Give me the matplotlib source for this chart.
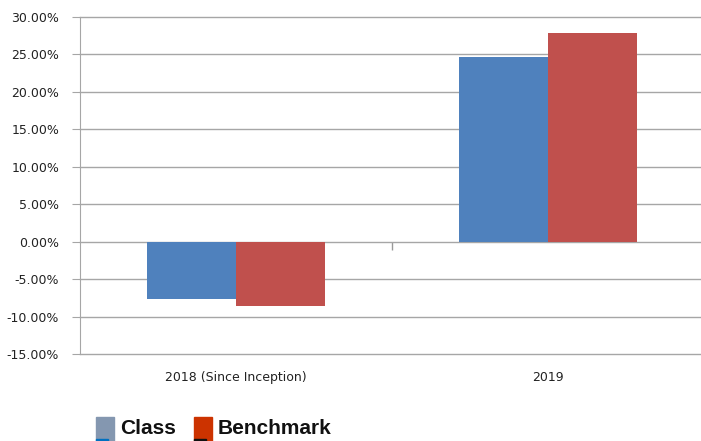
import numpy as np
import matplotlib
matplotlib.use('Agg')
import matplotlib.pyplot as plt
import matplotlib.patches as patches
import matplotlib.ticker as ticker

categories = ["2018 (Since Inception)", "2019"]
class_vals = [-7.6, 24.7]
bench_vals = [-8.6, 27.8]
series_names = ["Class", "Benchmark"]

dpi = 100
grid_col = '#a6a6a6'

fig = plt.figure(figsize=(7.01, 4.41), dpi=dpi)
ax = fig.add_axes([80 / 701, 1 - 354 / 441, 621 / 701, 337 / 441])

x = np.arange(len(categories))
w = 0.285
ax.bar(x - w / 2, class_vals, w, color='#4f81bd', zorder=3)
ax.bar(x + w / 2, bench_vals, w, color='#c0504d', zorder=3)

ax.set_xlim(-0.5, 1.49)
ax.set_ylim(-15, 30)
ax.yaxis.set_major_locator(ticker.MultipleLocator(5))
ax.yaxis.set_major_formatter(ticker.FuncFormatter(
    lambda v, p: ('%.2f%%' % v) if v >= 0 else ('-%.2f%%' % -v)))
ax.grid(axis='y', color=grid_col, linewidth=1, zorder=0)
ax.set_axisbelow(True)
for gl in ax.get_ygridlines():
    gl.set_clip_on(False)

for s in ['top', 'right', 'bottom']:
    ax.spines[s].set_visible(False)
ax.spines['left'].set_color(grid_col)
ax.tick_params(axis='y', length=6, color=grid_col, pad=9,
               labelsize=9, labelcolor='#222222')

ax.set_xticks(x, categories)
ax.tick_params(axis='x', length=0, pad=12, labelsize=9, labelcolor='#222222')

# small divider tick on the zero line
sec = ax.secondary_xaxis(15 / 45)
sec.set_xticks([0.5], [''])
sec.tick_params(length=6, width=1, color='#999999', direction='out')
sec.spines['bottom'].set_visible(False)
sec.spines['top'].set_visible(False)

# legend drawn at bottom left
leg_cols = ['#8497b0', '#cc3300']
leg_sub = ['#0070c0', '#111111']
leg_x = [96, 194]
text_x = [120, 218]
for i, name in enumerate(series_names):
    fig.patches.append(patches.Rectangle(
        (leg_x[i] / 701, 0), 18 / 701, 24 / 441,
        transform=fig.transFigure, color=leg_cols[i]))
    fig.patches.append(patches.Rectangle(
        (leg_x[i] / 701, 0), 12 / 701, 2.5 / 441,
        transform=fig.transFigure, color=leg_sub[i]))
    fig.text(text_x[i] / 701, 1 - 429 / 441, name, family='Liberation Sans',
             fontweight='bold', fontsize=15, va='center', ha='left', color='#111111')

fig.savefig('out.png', dpi=dpi)
